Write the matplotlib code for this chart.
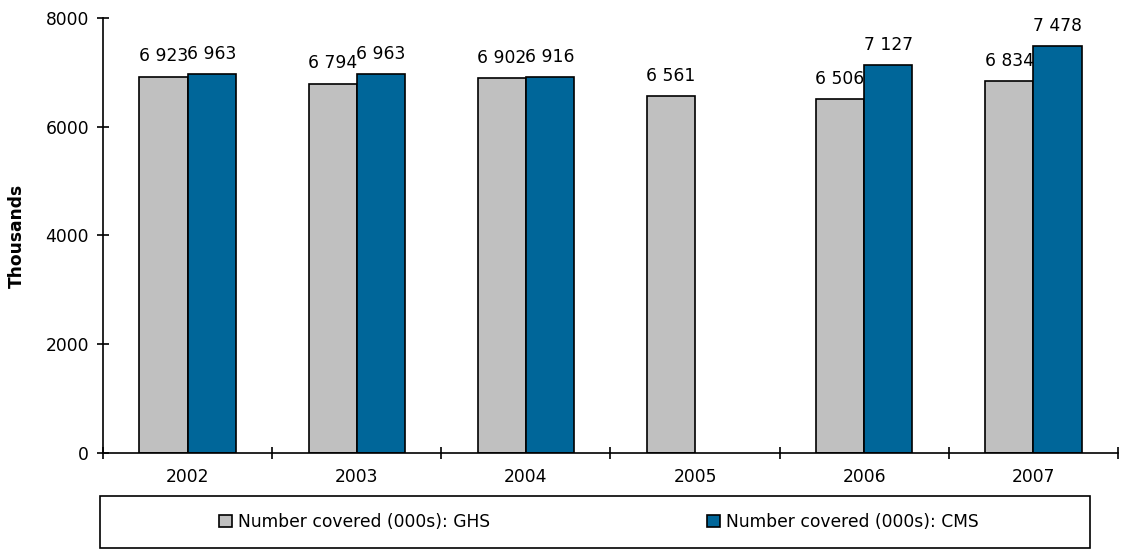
import numpy as np
import matplotlib
matplotlib.use("Agg")
import matplotlib.pyplot as plt
from matplotlib.patches import Rectangle

years = ["2002", "2003", "2004", "2005", "2006", "2007"]
ghs = [6923, 6794, 6902, 6561, 6506, 6834]
cms = [6963, 6963, 6916, np.nan, 7127, 7478]
series_names = ["Number covered (000s): GHS", "Number covered (000s): CMS"]
y_ticks = [0, 2000, 4000, 6000, 8000]

FS = 12.3
plt.rcParams["font.family"] = ["DejaVu Sans"]
plt.rcParams["font.size"] = FS

fig = plt.figure(figsize=(11.22, 5.5), dpi=100)
ax = fig.add_axes([0.0918, 0.1764, 0.9046, 0.7909])

x = np.arange(len(years))
w = 0.285
b1 = ax.bar(x - w / 2, ghs, w, color="#C0C0C0", edgecolor="black", linewidth=1.2, label=series_names[0])
b2 = ax.bar(x + w / 2, cms, w, color="#006699", edgecolor="black", linewidth=1.2, label=series_names[1])


def fmt(v):
    return f"{int(v):,}".replace(",", " ")


for bars, vals in ((b1, ghs), (b2, cms)):
    for rect, v in zip(bars, vals):
        if np.isnan(v):
            continue
        ax.annotate(fmt(v), (rect.get_x() + rect.get_width() / 2, v),
                    xytext=(0, 8), textcoords="offset points",
                    ha="center", va="bottom", fontsize=FS)

ax.set_xlim(-0.5, len(years) - 0.5)
ax.set_ylim(0, 8000)
ax.set_yticks(y_ticks)
ax.set_xticks(x)
ax.set_xticklabels(years, fontsize=FS)
ax.tick_params(axis="x", length=0, pad=11)
ax.set_xticks(np.arange(len(years) + 1) - 0.5, minor=True)
ax.tick_params(axis="x", which="minor", direction="inout", length=8, width=1.2)
ax.tick_params(axis="y", direction="inout", length=8, width=1.2, labelsize=FS, pad=6)
ax.set_ylabel("Thousands", fontweight="bold", fontsize=FS, labelpad=14)
for s in ("left", "bottom"):
    ax.spines[s].set_linewidth(1.2)
for s in ("top", "right"):
    ax.spines[s].set_visible(False)

# legend frame below the plot
fig.patches.append(Rectangle((0.0891, 0.004), 0.8824, 0.0945, transform=fig.transFigure,
                             facecolor="white", edgecolor="black", linewidth=1.2))
leg = fig.legend(handles=[b1, b2], loc="center", bbox_to_anchor=(0.534, 0.051),
                 ncol=2, frameon=False, fontsize=FS, handlelength=0.75, handleheight=0.75,
                 handletextpad=0.35, columnspacing=12.7)

fig.savefig("out.png", dpi=100)
